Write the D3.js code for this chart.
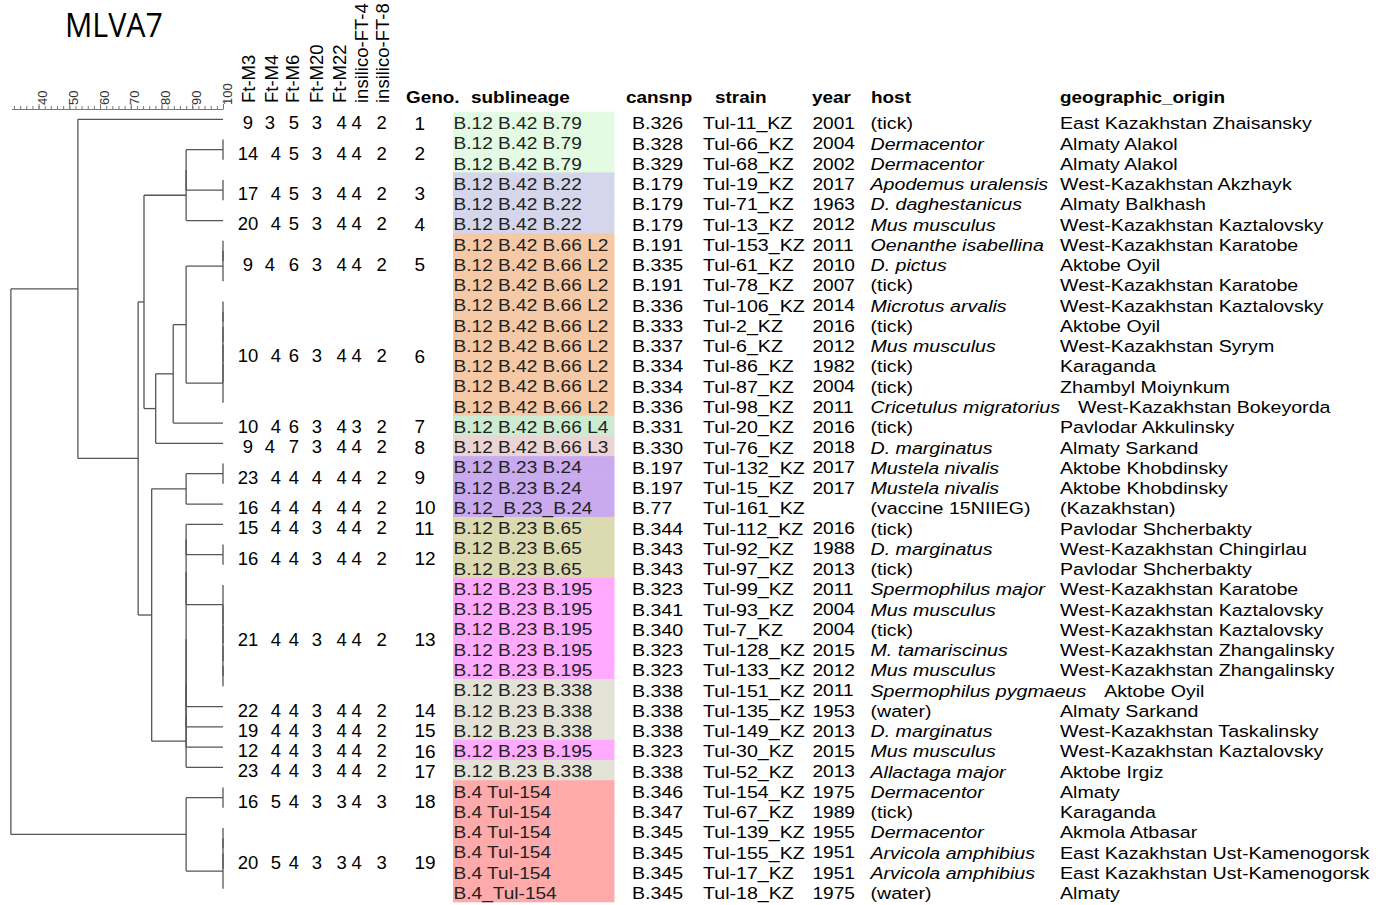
<!DOCTYPE html>
<html>
<head>
<meta charset="utf-8">
<script src="https://cdn.jsdelivr.net/npm/d3@7"></script>
<style>
  body { margin: 0; background: #fff; }
  text { font-family: "Liberation Sans", Arial, sans-serif; }
</style>
</head>
<body>
<svg width="1387" height="905"></svg>
<script>
// MLVA markers (rotated column headers)
const markers = ["Ft-M3", "Ft-M4", "Ft-M6", "Ft-M20", "Ft-M22", "insilico-FT-4", "insilico-FT-8"];

// MLVA7 profile of genotypes 1..19
const profiles = [
  [9, 3, 5, 3, 4, 4, 2],
  [14, 4, 5, 3, 4, 4, 2],
  [17, 4, 5, 3, 4, 4, 2],
  [20, 4, 5, 3, 4, 4, 2],
  [9, 4, 6, 3, 4, 4, 2],
  [10, 4, 6, 3, 4, 4, 2],
  [10, 4, 6, 3, 4, 3, 2],
  [9, 4, 7, 3, 4, 4, 2],
  [23, 4, 4, 4, 4, 4, 2],
  [16, 4, 4, 4, 4, 4, 2],
  [15, 4, 4, 3, 4, 4, 2],
  [16, 4, 4, 3, 4, 4, 2],
  [21, 4, 4, 3, 4, 4, 2],
  [22, 4, 4, 3, 4, 4, 2],
  [19, 4, 4, 3, 4, 4, 2],
  [12, 4, 4, 3, 4, 4, 2],
  [23, 4, 4, 3, 4, 4, 2],
  [16, 5, 4, 3, 3, 4, 3],
  [20, 5, 4, 3, 3, 4, 3]
];

// first table row and number of strains of each genotype
const genoFirst = [0, 1, 3, 5, 6, 9, 15, 16, 17, 19, 20, 21, 23, 29, 30, 31, 32, 33, 35];
const genoCount = [1, 2, 2, 1, 3, 6, 1, 1, 2, 1, 1, 2, 6, 1, 1, 1, 1, 2, 4];

// strain table
const sublineage = [
  "B.12 B.42 B.79", "B.12 B.42 B.79", "B.12 B.42 B.79",
  "B.12 B.42 B.22", "B.12 B.42 B.22", "B.12 B.42 B.22",
  "B.12 B.42 B.66 L2", "B.12 B.42 B.66 L2", "B.12 B.42 B.66 L2", "B.12 B.42 B.66 L2",
  "B.12 B.42 B.66 L2", "B.12 B.42 B.66 L2", "B.12 B.42 B.66 L2", "B.12 B.42 B.66 L2",
  "B.12 B.42 B.66 L2", "B.12 B.42 B.66 L4", "B.12 B.42 B.66 L3",
  "B.12 B.23 B.24", "B.12 B.23 B.24", "B.12_B.23_B.24",
  "B.12 B.23 B.65", "B.12 B.23 B.65", "B.12 B.23 B.65",
  "B.12 B.23 B.195", "B.12 B.23 B.195", "B.12 B.23 B.195", "B.12 B.23 B.195", "B.12 B.23 B.195",
  "B.12 B.23 B.338", "B.12 B.23 B.338", "B.12 B.23 B.338", "B.12 B.23 B.195", "B.12 B.23 B.338",
  "B.4 Tul-154", "B.4 Tul-154", "B.4 Tul-154", "B.4 Tul-154", "B.4 Tul-154", "B.4_Tul-154"
];
const cansnp = [
  "B.326", "B.328", "B.329", "B.179", "B.179", "B.179", "B.191", "B.335", "B.191", "B.336",
  "B.333", "B.337", "B.334", "B.334", "B.336", "B.331", "B.330", "B.197", "B.197", "B.77",
  "B.344", "B.343", "B.343", "B.323", "B.341", "B.340", "B.323", "B.323", "B.338", "B.338",
  "B.338", "B.323", "B.338", "B.346", "B.347", "B.345", "B.345", "B.345", "B.345"
];
const strain = [
  "Tul-11_KZ", "Tul-66_KZ", "Tul-68_KZ", "Tul-19_KZ", "Tul-71_KZ", "Tul-13_KZ", "Tul-153_KZ",
  "Tul-61_KZ", "Tul-78_KZ", "Tul-106_KZ", "Tul-2_KZ", "Tul-6_KZ", "Tul-86_KZ", "Tul-87_KZ",
  "Tul-98_KZ", "Tul-20_KZ", "Tul-76_KZ", "Tul-132_KZ", "Tul-15_KZ", "Tul-161_KZ", "Tul-112_KZ",
  "Tul-92_KZ", "Tul-97_KZ", "Tul-99_KZ", "Tul-93_KZ", "Tul-7_KZ", "Tul-128_KZ", "Tul-133_KZ",
  "Tul-151_KZ", "Tul-135_KZ", "Tul-149_KZ", "Tul-30_KZ", "Tul-52_KZ", "Tul-154_KZ", "Tul-67_KZ",
  "Tul-139_KZ", "Tul-155_KZ", "Tul-17_KZ", "Tul-18_KZ"
];
const year = [
  "2001", "2004", "2002", "2017", "1963", "2012", "2011", "2010", "2007", "2014",
  "2016", "2012", "1982", "2004", "2011", "2016", "2018", "2017", "2017", "",
  "2016", "1988", "2013", "2011", "2004", "2004", "2015", "2012", "2011", "1953",
  "2013", "2015", "2013", "1975", "1989", "1955", "1951", "1951", "1975"
];
const host = [
  "(tick)", "Dermacentor", "Dermacentor", "Apodemus uralensis", "D. daghestanicus", "Mus musculus",
  "Oenanthe isabellina", "D. pictus", "(tick)", "Microtus arvalis", "(tick)", "Mus musculus",
  "(tick)", "(tick)", "Cricetulus migratorius", "(tick)", "D. marginatus", "Mustela nivalis",
  "Mustela nivalis", "(vaccine 15NIIEG)", "(tick)", "D. marginatus", "(tick)", "Spermophilus major",
  "Mus musculus", "(tick)", "M. tamariscinus", "Mus musculus", "Spermophilus pygmaeus", "(water)",
  "D. marginatus", "Mus musculus", "Allactaga major", "Dermacentor", "(tick)", "Dermacentor",
  "Arvicola amphibius", "Arvicola amphibius", "(water)"
];
const origin = [
  "East Kazakhstan Zhaisansky", "Almaty Alakol", "Almaty Alakol", "West-Kazakhstan Akzhayk",
  "Almaty Balkhash", "West-Kazakhstan Kaztalovsky", "West-Kazakhstan Karatobe", "Aktobe Oyil",
  "West-Kazakhstan Karatobe", "West-Kazakhstan Kaztalovsky", "Aktobe Oyil", "West-Kazakhstan Syrym",
  "Karaganda", "Zhambyl Moiynkum", "West-Kazakhstan Bokeyorda", "Pavlodar Akkulinsky",
  "Almaty Sarkand", "Aktobe Khobdinsky", "Aktobe Khobdinsky", "(Kazakhstan)", "Pavlodar Shcherbakty",
  "West-Kazakhstan Chingirlau", "Pavlodar Shcherbakty", "West-Kazakhstan Karatobe",
  "West-Kazakhstan Kaztalovsky", "West-Kazakhstan Kaztalovsky", "West-Kazakhstan Zhangalinsky",
  "West-Kazakhstan Zhangalinsky", "Aktobe Oyil", "Almaty Sarkand", "West-Kazakhstan Taskalinsky",
  "West-Kazakhstan Kaztalovsky", "Aktobe Irgiz", "Almaty", "Karaganda", "Akmola Atbasar",
  "East Kazakhstan Ust-Kamenogorsk", "East Kazakhstan Ust-Kamenogorsk", "Almaty"
];

const sublineageCats = [
  "B.12 B.42 B.79", "B.12 B.42 B.22", "B.12 B.42 B.66 L2", "B.12 B.42 B.66 L4",
  "B.12 B.42 B.66 L3", "B.12 B.23 B.24", "B.12 B.23 B.65", "B.12 B.23 B.195",
  "B.12 B.23 B.338", "B.4 Tul-154"
];
const sublineageColors = [
  "#e3fae3", "#d5d6ec", "#f5c9a6", "#cdebd0", "#ebd4d4", "#c9aaef", "#dcdab1", "#ffaaff",
  "#e2e2d7", "#ffaaaa"
];

// UPGMA dendrogram: [similarity %, children...]; a bare number is a strain row
const tree = [31.0,
  [52.8, 0,
    [72.4,
      [74.3,
        [88.0, [88.0, [100, 1, 2], [100, 3, 4]], 5],
        [78.1,
          [83.8,
            [88.0,
              [100, [100, 6, 7], 8],
              [100, [100, [100, [100, [100, 9, 10], 11], 12], 13], 14]],
            15],
          16]
      ],
      [76.8,
        [88.0, [100, 17, 18], 19],
        [88.0, [88.0, [88.0, [88.0, [88.0, [88.0, 20, [100, 21, 22]],
          [100, 23, [100, 24, [100, 25, [100, 26, [100, 27, 28]]]]]], 29], 30], 31], 32]
      ]
    ]
  ],
  [88.0, [100, 33, 34], [100, [100, [100, 35, 36], 37], 38]]
];

const scaleTicks = [40, 50, 60, 70, 80, 90, 100];
const scaleMinor = d3.range(32, 101, 2);

// ---------------------------------------------------------------------------
const svg = d3.select("svg");
const nRows = strain.length;
const stretch = 1.14;

const x = d3.scaleLinear().domain([31.2, 100]).range([11.5, 223]);
const row = d3.scaleBand().domain(d3.range(nRows)).range([111.7, 901.8]);
const slot = d3.scaleLinear().domain([0, nRows - 1]).range([119.3, 888.8]);
const color = d3.scaleOrdinal().domain(sublineageCats).range(sublineageColors);
const rowMid = i => row(i) + row.bandwidth() / 2 + 1.5;

// Title
svg.append("text")
  .attr("x", 65)
  .attr("y", 36.7)
  .style("font-family", "'Open Sans', sans-serif")
  .attr("font-size", 32.5)
  .attr("textLength", 98)
  .attr("lengthAdjust", "spacingAndGlyphs")
  .text("MLVA7");

// Similarity scale
const axisG = svg.append("g").attr("transform", "translate(0,109)");
axisG.call(d3.axisTop(x).tickValues(scaleMinor).tickSize(3).tickSizeOuter(0).tickFormat(""));
axisG.append("g")
  .call(d3.axisTop(x).tickValues(scaleTicks).tickSize(5).tickFormat(""))
  .call(g => g.select(".domain").remove());
axisG.selectAll("path, line").attr("stroke", "#777").attr("stroke-width", 1);
axisG.selectAll(".lab")
  .data(scaleTicks)
  .join("text")
  .attr("class", "lab")
  .attr("transform", d => `translate(${x(d) + 4},-4) rotate(-90)`)
  .attr("text-anchor", "start")
  .attr("dy", "0.35em")
  .attr("font-size", 13)
  .attr("fill", "#333")
  .text(d => d);

// Dendrogram
const root = d3.hierarchy(tree, d => Array.isArray(d) ? d.slice(1) : null);
root.eachAfter(n => {
  if (n.children) {
    n.sim = n.data[0];
    n.yy = (n.children[0].yy + n.children[n.children.length - 1].yy) / 2;
  } else {
    n.sim = 100;
    n.yy = slot(n.data);
  }
});

const dend = svg.append("g").attr("stroke", "#555").attr("stroke-width", 1.3);
dend.selectAll(".v")
  .data(root.descendants().filter(n => n.children))
  .join("line")
  .attr("x1", d => x(d.sim))
  .attr("x2", d => x(d.sim))
  .attr("y1", d => d3.min(d.children, c => c.yy))
  .attr("y2", d => d3.max(d.children, c => c.yy));
dend.selectAll(".h")
  .data(root.descendants().slice(1).filter(n => n.sim > n.parent.sim))
  .join("line")
  .attr("x1", d => x(d.parent.sim))
  .attr("x2", d => x(d.sim))
  .attr("y1", d => d.yy)
  .attr("y2", d => d.yy);

// Marker headers
const markerX = [249, 272, 293, 317, 340, 362, 383];
svg.append("g").selectAll("text")
  .data(markers)
  .join("text")
  .attr("transform", (d, i) => `translate(${markerX[i]},103) rotate(-90)`)
  .attr("dy", "0.35em")
  .attr("font-size", 18.5)
  .text(d => d);

// MLVA profiles and genotype numbers
const colX = [248, 270, 294, 317, 341.7, 356.7, 381.7];
const genoMid = genoFirst.map((f, g) => (row(f) + row(f + genoCount[g] - 1) + row.bandwidth()) / 2 + 1.5);

const prof = svg.append("g").attr("font-size", 17.6);
profiles.forEach((p, g) => {
  prof.selectAll(null)
    .data(p)
    .join("text")
    .attr("transform", (v, i) => {
      const cx = colX[i] + (i === 1 && p[0] >= 10 ? 6 : 0);
      return `translate(${cx},${genoMid[g]}) scale(1.05,1)`;
    })
    .attr("text-anchor", "middle")
    .attr("dominant-baseline", "central")
    .text(v => v);
});
prof.selectAll(".geno")
  .data(genoMid)
  .join("text")
  .attr("class", "geno")
  .attr("transform", d => `translate(414.5,${d}) scale(1.08,1)`)
  .attr("dominant-baseline", "central")
  .text((d, g) => g + 1);

// Table headers
const headers = [
  { t: "Geno.", x: 406 }, { t: "sublineage", x: 471 }, { t: "cansnp", x: 626 },
  { t: "strain", x: 715 }, { t: "year", x: 812 }, { t: "host", x: 871 },
  { t: "geographic_origin", x: 1060 }
];
svg.append("g").selectAll("text")
  .data(headers)
  .join("text")
  .attr("transform", d => `translate(${d.x},97.5) scale(1.1,1)`)
  .attr("dominant-baseline", "central")
  .attr("font-weight", "bold")
  .attr("font-size", 17.2)
  .text(d => d.t);

// Sublineage colour bands
svg.append("g").selectAll("rect")
  .data(sublineage)
  .join("rect")
  .attr("x", 453)
  .attr("y", (d, i) => row(i))
  .attr("width", 161.5)
  .attr("height", row.bandwidth() + 0.5)
  .attr("fill", d => color(d.replace(/_/g, " ")));

// Table cells
const table = svg.append("g").attr("font-size", 17.2);
function column(values, x0, opts = {}) {
  const sx = opts.sx || stretch;
  return table.append("g").selectAll("text")
    .data(values)
    .join("text")
    .attr("transform", (d, i) => `translate(${x0},${rowMid(i)}) scale(${sx},1)`)
    .attr("dominant-baseline", "central")
    .attr("fill", opts.fill || "#000")
    .attr("font-style", opts.italic ? (d => d.startsWith("(") ? "normal" : "italic") : "normal")
    .style("white-space", "pre")
    .text(d => d);
}
column(sublineage, 453.5, { fill: "#222", sx: 1.11 });
column(cansnp, 632);
column(strain, 703);
column(year, 812.5, { sx: 1.11 });
const hostText = column(host, 870.5, { italic: true });

// origin moves right where a long host name would overlap it
const originBase = 1060;
const hostEnd = hostText.nodes().map(n => 870.5 + n.getComputedTextLength() * stretch);
table.append("g").selectAll("text")
  .data(origin)
  .join("text")
  .attr("transform", (d, i) => {
    const ox = hostEnd[i] + 4 > originBase ? hostEnd[i] + 18 : originBase;
    return `translate(${ox},${rowMid(i)}) scale(${stretch},1)`;
  })
  .attr("dominant-baseline", "central")
  .text(d => d);
</script>
</body>
</html>
